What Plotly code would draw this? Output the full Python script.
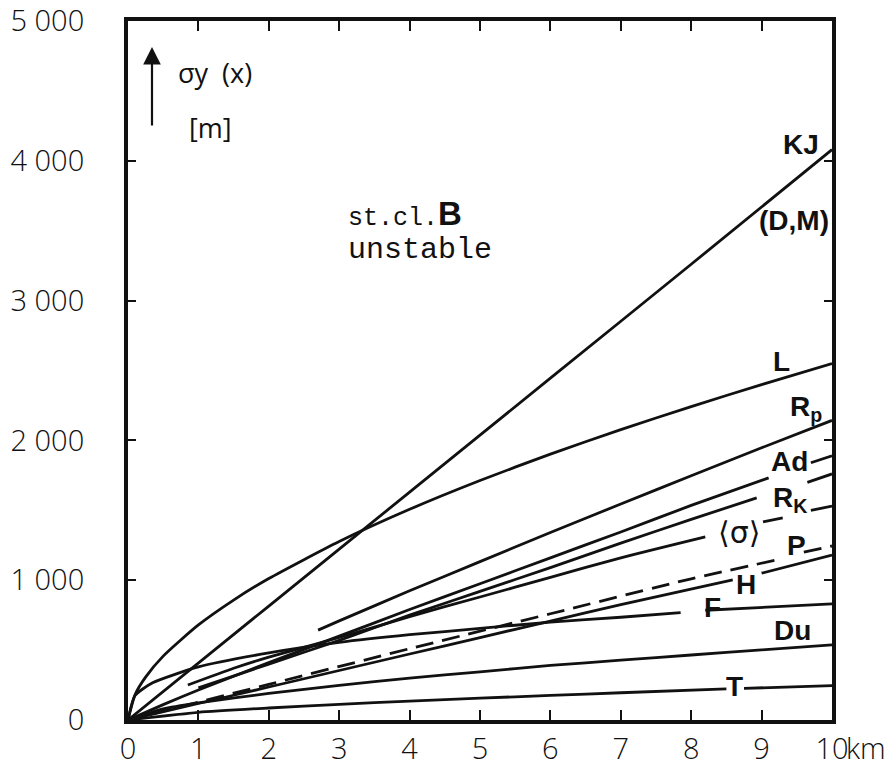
import plotly.graph_objects as go

# sigma_y(x) for stability class B, distance in km, sigma in m.
# None marks a gap left in a line for its label.
kj_x = [0, 2, 4, 6, 8, 10]
kj_y = [0, 815, 1630, 2445, 3260, 4080]

l_x = [0, 0.1, 0.25, 0.5, 1, 1.5, 2, 3, 4, 5, 6, 7, 8, 9, 10]
l_y = [0, 181, 307, 457, 680, 858, 1012, 1277, 1507, 1713, 1902, 2077, 2242, 2399, 2550]

rp_x = [2.7, 3, 4, 5, 6, 7, 8, 9, 10]
rp_y = [643, 709, 924, 1133, 1341, 1545, 1747, 1947, 2143]

ad_x = [0, 0.5, 1, 2, 3, 4, 5, 6, 7, 8, 9.1, None, 9.7, 10]
ad_y = [0, 110, 215, 410, 600, 790, 975, 1160, 1345, 1535, 1732, None, 1840, 1890]

rk_x = [1.0, 2, 3, 4, 5, 6, 7, 8, 8.93, None, 9.65, 10]
rk_y = [230, 400, 570, 750, 920, 1090, 1265, 1435, 1589, None, 1700, 1760]

sig_x = [0.85, 1.5, 2, 3, 4, 5, 6, 7, 8.2, None, 9.02, 9.3, None, 9.7, 10]
sig_y = [250, 370, 450, 590, 740, 880, 1020, 1160, 1310, None, 1417, 1446, None, 1500, 1530]

p_x = [0, 1, 2, 4, 6, 8, 9.26, None, 9.6, 10]
p_y = [0, 128, 255, 510, 760, 1010, 1150, None, 1200, 1245]

h_x = [0, 1, 2, 3, 4, 5, 6, 7, 8.59, None, 9.0, 10]
h_y = [0, 118, 236, 354, 472, 590, 708, 826, 1002, None, 1050, 1180]

f_x = [0, 0.1, 0.35, 1, 2, 3, 4, 5, 6, 7, 7.85, None, 8.2, 10]
f_y = [0, 175, 266, 380, 480, 555, 610, 655, 700, 735, 768, None, 785, 830]

du_x = [0, 0.5, 1, 2, 3, 4, 5, 6, 7, 8, 9, 10]
du_y = [0, 80, 123, 190, 248, 300, 345, 390, 428, 465, 502, 537]

t_x = [0, 1, 2, 3, 4, 5, 6, 7, 8.5, None, 8.75, 10]
t_y = [0, 55, 86, 112, 135, 156, 176, 195, 222, None, 226, 246]

y_ticks = [0, 1000, 2000, 3000, 4000, 5000]
y_ticktext = ["0", "1 000", "2 000", "3 000", "4 000", "5 000"]
x_ticks = list(range(11))
x_ticktext = [str(v) for v in x_ticks]

INK = "#111111"
LW = 2.8

fig = go.Figure()

solid = [
    (kj_x, kj_y), (l_x, l_y), (rp_x, rp_y), (ad_x, ad_y), (rk_x, rk_y),
    (sig_x, sig_y), (h_x, h_y), (f_x, f_y), (du_x, du_y), (t_x, t_y),
]
for xs, ys in solid:
    fig.add_trace(go.Scatter(x=xs, y=ys, mode="lines",
                             line=dict(color=INK, width=LW, shape="spline", smoothing=0.6),
                             connectgaps=False, hoverinfo="skip"))

fig.add_trace(go.Scatter(x=p_x, y=p_y, mode="lines",
                         line=dict(color=INK, width=LW, dash="18px,9px",
                                   shape="spline", smoothing=0.6),
                         connectgaps=False, hoverinfo="skip"))


def paper(px, py):
    return (px - 128) / 704, (720 - py) / 699


label_font = dict(family="Liberation Sans", size=28, color=INK, weight="bold")
labels = [
    ("KJ", 801, 144), ("(D,M)", 794, 220), ("L", 781, 361),
    ("R<sub>p</sub>", 806, 408), ("Ad", 789, 461), ("R<sub>K</sub>", 790, 500),
    ("P", 796, 545), ("H", 746, 584), ("F", 712, 607), ("Du", 792, 630),
    ("T", 734, 686),
]
for txt, px, py in labels:
    ax_, ay_ = paper(px, py)
    fig.add_annotation(x=ax_, y=ay_, xref="paper", yref="paper",
                       text=txt, showarrow=False, font=label_font,
                       xanchor="center", yanchor="middle")

sx, sy = paper(739, 532)
fig.add_annotation(x=sx, y=sy, xref="paper", yref="paper",
                   text="⟨σ⟩", showarrow=False,
                   font=dict(family="DejaVu Sans", size=30, color=INK),
                   xanchor="center", yanchor="middle")

# axis caption with upward arrow
tx, ty = paper(152, 47)
fig.add_annotation(x=tx, y=ty, xref="paper", yref="paper",
                   ax=0, ay=80, axref="pixel", ayref="pixel", text="",
                   showarrow=True, arrowhead=2, arrowsize=1.6, arrowwidth=2.2,
                   arrowcolor=INK)
cx, cy = paper(176, 72)
fig.add_annotation(x=cx, y=cy, xref="paper", yref="paper",
                   text="σy  (x)", showarrow=False,
                   font=dict(family="Open Sans", size=27, color=INK),
                   xanchor="left", yanchor="middle")
mx, my = paper(187, 128)
fig.add_annotation(x=mx, y=my, xref="paper", yref="paper",
                   text="[m]", showarrow=False,
                   font=dict(family="Open Sans", size=27, color=INK),
                   xanchor="left", yanchor="middle")

bx, by = paper(346, 214)
fig.add_annotation(x=bx, y=by, xref="paper", yref="paper",
                   text="st.cl.<span style='font-family:Liberation Sans;font-weight:bold;font-size:33px'>B</span>",
                   showarrow=False, font=dict(family="Liberation Mono", size=25, color=INK),
                   xanchor="left", yanchor="middle")
ux, uy = paper(346, 250)
fig.add_annotation(x=ux, y=uy, xref="paper", yref="paper",
                   text="unstable", showarrow=False,
                   font=dict(family="Liberation Mono", size=30, color=INK),
                   xanchor="left", yanchor="middle")

# unit after the last distance tick
fig.add_annotation(x=10, y=0, xref="x", yref="paper", text="km", showarrow=False,
                   xshift=12, yshift=-6, xanchor="left", yanchor="top",
                   font=dict(family="Open Sans", size=29, color=INK, weight=300))

axis_font = dict(family="Open Sans", size=29, color=INK, weight=300)
fig.update_xaxes(range=[0, 10], tickvals=x_ticks, ticktext=x_ticktext,
                 ticks="inside", ticklen=10, tickwidth=2, tickcolor=INK,
                 showline=True, linewidth=4, linecolor=INK, mirror="allticks",
                 showgrid=False, zeroline=False, tickfont=axis_font,
                 ticklabelstandoff=0, ticklabeloverflow="allow", automargin=False)
fig.update_yaxes(range=[0, 5000], tickvals=y_ticks, ticktext=y_ticktext,
                 ticks="inside", ticklen=8, tickwidth=2, tickcolor=INK,
                 showline=True, linewidth=4, linecolor=INK, mirror="allticks",
                 showgrid=False, zeroline=False, tickfont=axis_font,
                 ticklabelstandoff=34, ticklabeloverflow="allow", automargin=False)

fig.update_layout(width=892, height=767, showlegend=False,
                  margin=dict(l=128, r=60, t=21, b=47),
                  paper_bgcolor="white", plot_bgcolor="white")

fig.write_html("out.html")
